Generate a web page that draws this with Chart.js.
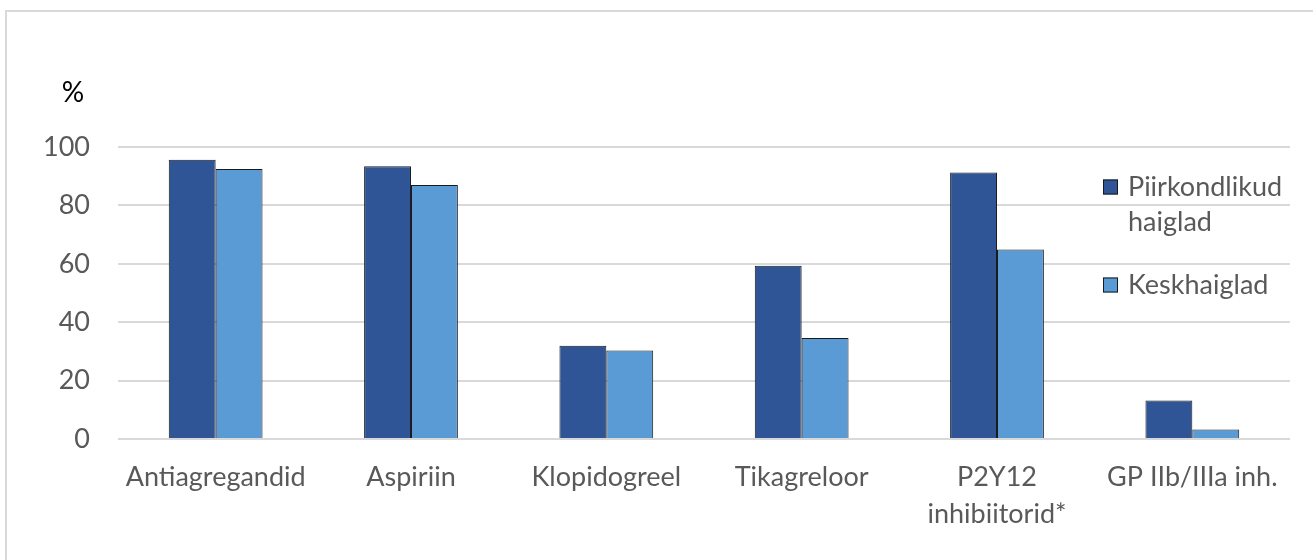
<!DOCTYPE html>
<html>
<head>
<meta charset="utf-8">
<script src="https://cdn.jsdelivr.net/npm/chart.js@4"></script>
<style>
  html, body { margin: 0; padding: 0; background: #fff; overflow: hidden; }
  #frame {
    position: absolute; left: 5px; top: 10px;
    width: 1400px; height: 700px;
    border: 2px solid #d9d9d9;
  }
  #wrap { position: absolute; left: 0; top: 0; width: 1313px; height: 560px; }
</style>
</head>
<body>
<div id="frame"></div>
<div id="wrap"><canvas id="myChart"></canvas></div>
<script>
"use strict";
// categories on the x axis (P2Y12 label breaks into two lines)
const categories = [
  "Antiagregandid",
  "Aspiriin",
  "Klopidogreel",
  "Tikagreloor",
  ["P2Y12", "inhibiitorid*"],
  "GP IIb/IIIa inh."
];
// series names
const seriesNames = ["Piirkondlikud haiglad", "Keskhaiglad"];
// values, in %
const regional = [95.6, 93.4, 31.9, 59.3, 91.3, 13.2];
const central = [92.5, 87.0, 30.3, 34.6, 64.9, 3.3];
// y axis ticks
const yMin = 0;
const yMax = 100;
const yStep = 20;

const font = "Lato, 'Open Sans', sans-serif";
const textGray = "#595959";

//draws the "%" unit above the y axis labels
const unitLabel = {
  id: "unitLabel",
  afterDraw(chart) {
    const ctx = chart.ctx;
    const area = chart.chartArea;
    ctx.save();
    ctx.font = "28px " + font;
    ctx.fillStyle = "#000";
    ctx.textAlign = "center";
    ctx.textBaseline = "middle";
    ctx.fillText("%", area.left - 45, area.top - 54);
    ctx.restore();
  }
};

//legend inside the plot, Excel style, long names wrap
const sideLegend = {
  id: "sideLegend",
  afterDraw(chart) {
    const ctx = chart.ctx;
    const area = chart.chartArea;
    const x0 = area.right - 187;
    let yc = area.top + 40;
    ctx.save();
    ctx.font = "27px " + font;
    ctx.textBaseline = "middle";
    chart.data.datasets.forEach(function (ds) {
      // wrap words into lines of max width
      let lines = [];
      let cur = "";
      ds.label.split(" ").forEach(function (w) {
        const test = cur ? cur + " " + w : w;
        if (cur && ctx.measureText(test).width > 165) {
          lines.push(cur);
          cur = w;
        } else {
          cur = test;
        }
      });
      lines.push(cur);
      ctx.fillStyle = ds.backgroundColor;
      ctx.strokeStyle = "#1a1a1a";
      ctx.lineWidth = 1;
      ctx.fillRect(x0, yc - 7.5, 15, 15);
      ctx.strokeRect(x0 + 0.5, yc - 7, 14, 14);
      ctx.fillStyle = textGray;
      lines.forEach(function (l, i) {
        ctx.fillText(l, x0 + 25, yc + i * 35);
      });
      yc += (lines.length - 1) * 35 + 63;
    });
    ctx.restore();
  }
};

new Chart(document.querySelector("#myChart"), {
  type: "bar",
  data: {
    labels: categories,
    datasets: [
      {
        label: seriesNames[0],
        data: regional,
        backgroundColor: "#2f5597",
        borderColor: "#1a1a1a",
        borderWidth: 1
      },
      {
        label: seriesNames[1],
        data: central,
        backgroundColor: "#5b9bd5",
        borderColor: "#1a1a1a",
        borderWidth: 1
      }
    ]
  },
  options: {
    responsive: true,
    maintainAspectRatio: false,
    animation: false,
    layout: { padding: { top: 147, right: 23, bottom: 15, left: 15 } },
    categoryPercentage: 0.48,
    barPercentage: 1,
    plugins: {
      legend: { display: false },
      tooltip: { enabled: false }
    },
    scales: {
      x: {
        grid: { display: false },
        border: { display: false },
        ticks: {
          color: textGray,
          font: { family: font, size: 27, lineHeight: 1.37 },
          padding: 12,
          maxRotation: 0,
          autoSkip: false
        }
      },
      y: {
        min: yMin,
        max: yMax,
        grid: { color: "#d9d9d9", lineWidth: 2, drawTicks: false },
        border: { display: false },
        ticks: {
          stepSize: yStep,
          color: textGray,
          font: { family: font, size: 27 },
          padding: 28
        }
      }
    }
  },
  plugins: [unitLabel, sideLegend]
});
</script>
</body>
</html>
